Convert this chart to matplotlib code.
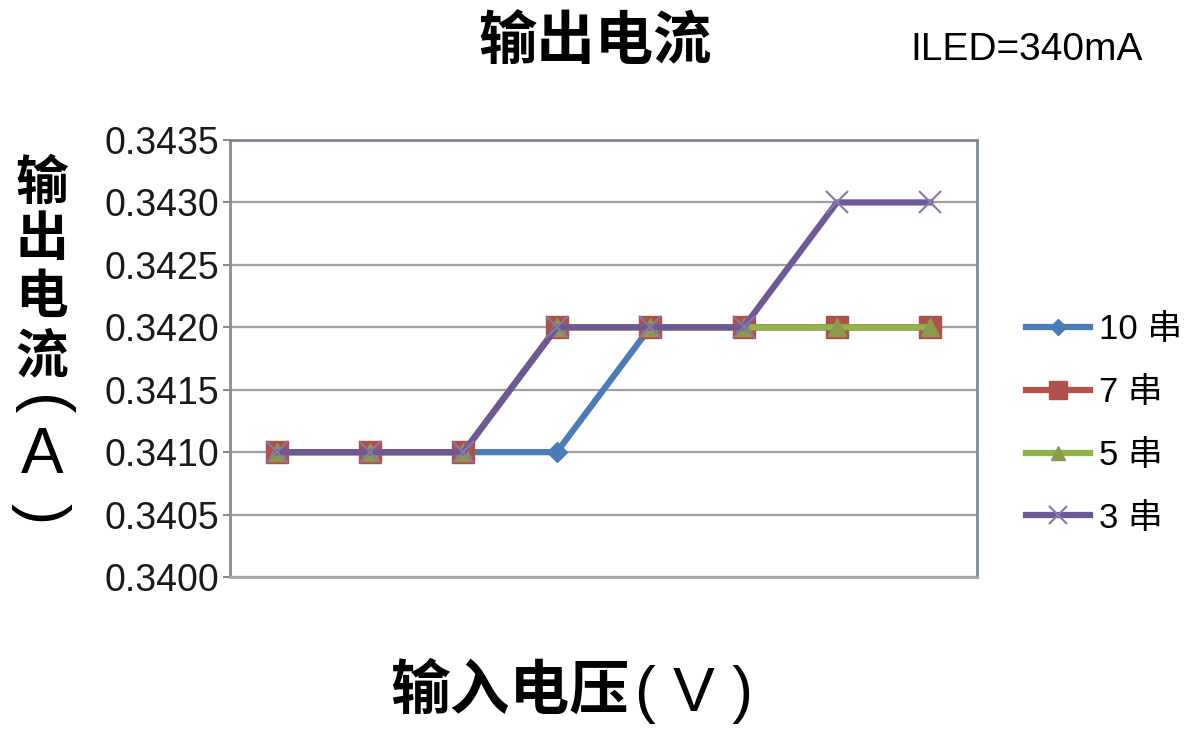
import matplotlib
matplotlib.use('Agg')
import matplotlib.pyplot as plt

# output current vs input voltage, four LED string lengths
x_points = list(range(8))
series_names = ['10 串', '7 串', '5 串', '3 串']
current_10 = [0.3410, 0.3410, 0.3410, 0.3410, 0.3420, 0.3420, 0.3420, 0.3420]
current_7  = [0.3410, 0.3410, 0.3410, 0.3420, 0.3420, 0.3420, 0.3420, 0.3420]
current_5  = [0.3410, 0.3410, 0.3410, 0.3420, 0.3420, 0.3420, 0.3420, 0.3420]
current_3  = [0.3410, 0.3410, 0.3410, 0.3420, 0.3420, 0.3420, 0.3430, 0.3430]
y_ticks = [0.3400, 0.3405, 0.3410, 0.3415, 0.3420, 0.3425, 0.3430, 0.3435]

cjk = ['Noto Sans CJK SC', 'DejaVu Sans']
latin = ['Liberation Sans', 'Noto Sans CJK SC']

fig = plt.figure(figsize=(11.93, 7.34), dpi=100)
ax = fig.add_axes([230/1193, 1 - 577/734, 747/1193, 437/734])

styles = [
    dict(color='#4a7db8', marker='D', ms=10, mfc='#4a7db8', mec='#4a7db8'),
    dict(color='#b8504c', marker='s', ms=16, mfc='#b0504a', mec='#b0504a'),
    dict(color='#8fb548', marker='^', ms=13, mfc='#8a9a50', mec='#8a9a50'),
    dict(color='#6e5896', marker='x', ms=16, mfc='none', mec='#8878a8', mew=1.5),
]
for z, (name, vals, st) in enumerate(zip(series_names,
                                         [current_10, current_7, current_5, current_3],
                                         styles)):
    ax.plot(x_points, vals, lw=4.5, label=name, zorder=3 + z, **st)

ax.set_xlim(-0.5, 7.5)
ax.set_ylim(0.3400, 0.3435)
ax.set_yticks(y_ticks)
ax.set_yticklabels(['%.4f' % v for v in y_ticks], family=latin, fontsize=27, color='#1a1a1a')
ax.set_xticks([])
ax.yaxis.grid(True, color='#a0a0a0', lw=1.6)
ax.set_axisbelow(True)
ax.tick_params(axis='y', length=5, width=1.5, color='#8c8c8c', pad=3)

ax.spines['left'].set_color('#8c8c8c')
ax.spines['bottom'].set_color('#a8a8a8')
ax.spines['top'].set_color('#7f8896')
ax.spines['right'].set_color('#7f8a99')
for s in ax.spines.values():
    s.set_linewidth(2)

fig.text(595/1193, 1 - 43/734, '输出电流', family=cjk, fontsize=42, fontweight='heavy',
         ha='center', va='center')
fig.text(1027/1193, 1 - 50/734, 'ILED=340mA', family=latin, fontsize=28,
         ha='center', va='center')

# x label: bold words, thin bracketed unit
fig.text(510/1193, 1 - 692/734, '输入电压', family=cjk, fontsize=43, fontweight='heavy',
         ha='center', va='center')
fig.text(635/1193, 1 - 694/734, '( V )', family=latin, fontsize=45,
         ha='left', va='center')

# vertical y label, one glyph per row; brackets turned on their side
ylabel_chars = ['输', '出', '电', '流']
ylabel_rows = [183, 240, 297, 357]
for ch, yy in zip(ylabel_chars, ylabel_rows):
    fig.text(42/1193, 1 - yy/734, ch, family=cjk, fontsize=38, fontweight='heavy',
             ha='center', va='center')
fig.text(41/1193, 1 - 406/734, '(', family=latin, fontsize=46, rotation=-90,
         ha='center', va='center')
fig.text(42/1193, 1 - 456/734, 'A', family=latin, fontsize=46,
         ha='center', va='center')
fig.text(41/1193, 1 - 514/734, ')', family=latin, fontsize=46, rotation=-90,
         ha='center', va='center')

leg = fig.legend(loc='upper left', bbox_to_anchor=(1026/1193, 1 - 313/734),
                 frameon=False, borderpad=0, borderaxespad=0,
                 handlelength=1.85, handletextpad=0.25, labelspacing=0.86,
                 markerscale=0.8, prop={'family': latin, 'size': 25})

fig.savefig('out.png', dpi=100)
